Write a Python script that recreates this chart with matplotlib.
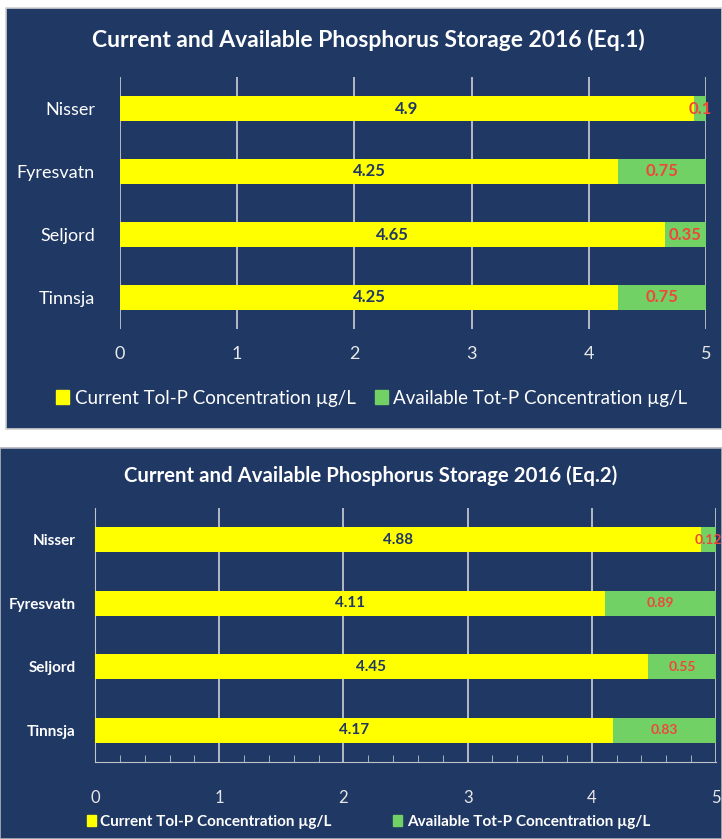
import matplotlib.pyplot as plt
from matplotlib.patches import Rectangle
from matplotlib.ticker import MultipleLocator

# lakes, top to bottom
lakes = ["Nisser", "Fyresvatn", "Seljord", "Tinnsja"]

# Eq.1 results
current_eq1 = [4.9, 4.25, 4.65, 4.25]
available_eq1 = [0.1, 0.75, 0.35, 0.75]

# Eq.2 results
current_eq2 = [4.88, 4.11, 4.45, 4.17]
available_eq2 = [0.12, 0.89, 0.55, 0.83]

navy = "#203864"
yellow = "#FFFF00"
green = "#71D165"
red = "#F0463C"
grid_c = "#BFC3CC"
font = ["Lato", "DejaVu Sans"]

plt.rcParams["font.family"] = font

fig = plt.figure(figsize=(7.22, 8.39), dpi=100)
fig.patch.set_facecolor("white")

# panel backgrounds
fig.patches.append(Rectangle((6 / 722, 1 - 429 / 839), 716 / 722, 421 / 839,
                             transform=fig.transFigure, facecolor=navy,
                             edgecolor="#D0D0D0", linewidth=1.2, zorder=-10))
fig.patches.append(Rectangle((0, 0), 1, 391 / 839,
                             transform=fig.transFigure, facecolor=navy,
                             edgecolor="#B0B4BC", linewidth=1.2, zorder=-10))


def draw_panel(ax, cur, avail, bold):
    ypos = list(range(len(lakes)))[::-1]
    ax.set_facecolor(navy)
    ax.barh(ypos, cur, height=0.4, color=yellow, zorder=3)
    ax.barh(ypos, avail, left=cur, height=0.4, color=green, zorder=3)
    for y, c, a in zip(ypos, cur, avail):
        ax.text(c / 2, y, f"{c:g}", ha="center", va="center",
                color=navy, fontweight="bold", fontsize=11 if bold else 12, zorder=4)
        ax.text(c + a / 2, y, f"{a:g}", ha="center", va="center",
                color=red, fontweight="bold", fontsize=10 if bold else 12, zorder=4)
    ax.set_xlim(0, 5)
    ax.set_ylim(-0.5, len(lakes) - 0.5)
    ax.set_yticks(ypos)
    ax.set_yticklabels(lakes, color="white", fontsize=11 if bold else 13,
                       fontweight="bold" if bold else "normal")
    ax.xaxis.set_major_locator(MultipleLocator(1))
    ax.grid(axis="x", color=grid_c, linewidth=1.3, zorder=1)
    ax.tick_params(axis="y", length=0, pad=18 if not bold else 14)
    ax.tick_params(axis="x", colors="white", labelcolor="#E8E8E8",
                   labelsize=13 if not bold else 12, pad=12)
    for s in ax.spines.values():
        s.set_visible(False)


# top chart (Eq.1)
ax1 = fig.add_axes([120 / 722, 1 - 329 / 839, 586 / 722, 252 / 839])
draw_panel(ax1, current_eq1, available_eq1, bold=False)
ax1.tick_params(axis="x", length=0)
fig.text(0.51, 1 - 40 / 839, "Current and Available Phosphorus Storage 2016 (Eq.1)",
         ha="center", va="center", color="white", fontsize=16.5, fontweight="bold")
h1 = [Rectangle((0, 0), 1, 1, color=yellow), Rectangle((0, 0), 1, 1, color=green)]
fig.legend(h1, ["Current Tol-P Concentration µg/L", "Available Tot-P Concentration µg/L"],
           loc="center", bbox_to_anchor=(0.515, 1 - 398 / 839), ncol=2, frameon=False,
           labelcolor="white", fontsize=13.5, handlelength=0.7, handleheight=0.7,
           handletextpad=0.3, columnspacing=1.0)

# bottom chart (Eq.2)
ax2 = fig.add_axes([95 / 722, 1 - 762 / 839, 621 / 722, 254 / 839])
draw_panel(ax2, current_eq2, available_eq2, bold=True)
ax2.spines["bottom"].set_visible(True)
ax2.spines["bottom"].set_color(grid_c)
ax2.spines["left"].set_visible(True)
ax2.spines["left"].set_color(grid_c)
ax2.xaxis.set_minor_locator(MultipleLocator(0.2))
ax2.tick_params(axis="x", which="both", direction="in", color=grid_c)
ax2.tick_params(axis="x", which="major", length=0, pad=20)
ax2.tick_params(axis="x", which="minor", length=5)
fig.text(0.514, 1 - 476 / 839, "Current and Available Phosphorus Storage 2016 (Eq.2)",
         ha="center", va="center", color="white", fontsize=14.7, fontweight="bold")
h2 = [Rectangle((0, 0), 1, 1, color=yellow), Rectangle((0, 0), 1, 1, color=green)]
fig.legend(h2, ["Current Tol-P Concentration µg/L", "Available Tot-P Concentration µg/L"],
           loc="center", bbox_to_anchor=(0.51, 1 - 822 / 839), ncol=2, frameon=False,
           labelcolor="white", handlelength=0.6, handleheight=0.7,
           handletextpad=0.3, columnspacing=4.0, prop={"weight": "bold", "size": 11})

fig.savefig("out.png", dpi=100)
